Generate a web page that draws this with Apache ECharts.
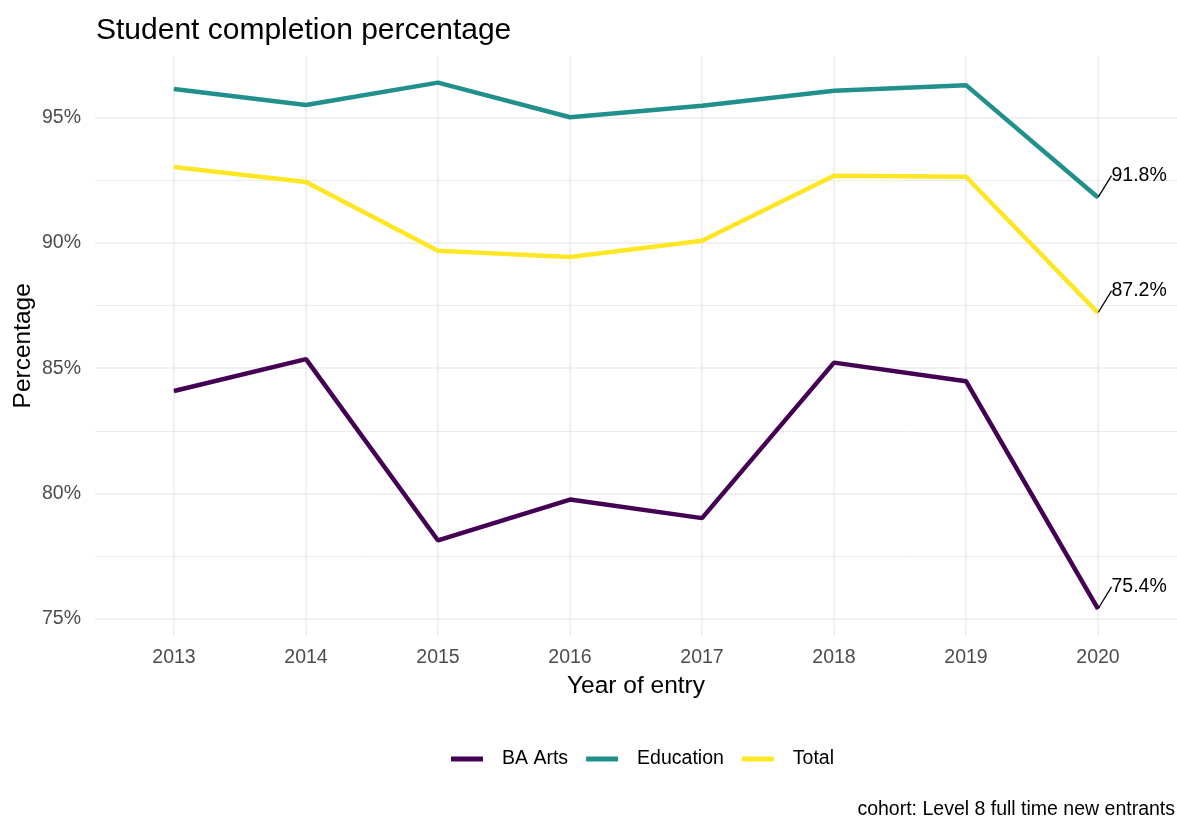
<!DOCTYPE html>
<html>
<head>
<meta charset="utf-8">
<title>Student completion percentage</title>
<script src="https://cdn.jsdelivr.net/npm/echarts@6/dist/echarts.min.js"></script>
<style>
  html, body { margin: 0; padding: 0; background: #fff; }
  #chart { width: 1177px; height: 820px; }
</style>
</head>
<body>
<div id="chart"></div>
<script>
// data
var years = ['2013', '2014', '2015', '2016', '2017', '2018', '2019', '2020'];
var baArts = [84.09, 85.36, 78.13, 79.76, 79.02, 85.22, 84.48, 75.4];
var education = [96.13, 95.49, 96.38, 95.0, 95.46, 96.06, 96.28, 91.8];
var total = [93.02, 92.42, 89.68, 89.43, 90.08, 92.67, 92.63, 87.2];

var seriesNames = ['BA Arts', 'Education', 'Total'];
var seriesColors = ['#440154', '#21908C', '#FDE725'];

var font = '"Liberation Sans", Arial, sans-serif';
var gridColor = '#ebebeb';

var myChart = echarts.init(document.getElementById('chart'));

// only the last point of each line gets a value label
function withEndLabel(values) {
    return values.map(function (v, i) {
        if (i === values.length - 1) {
            return { value: v, label: { show: true }, labelLine: { show: true } };
        }
        return v;
    });
}

function makeSeries(name, values, color) {
    return {
        name: name,
        type: 'line',
        xAxisIndex: 1,
        yAxisIndex: 1,
        data: withEndLabel(values),
        showSymbol: true,
        symbol: 'circle',
        symbolSize: 1,
        clip: false,
        silent: true,
        animation: false,
        itemStyle: { color: color },
        lineStyle: { color: color, width: 4.5 },
        label: {
            show: false,
            position: 'right',
            distance: 5,
            color: '#000',
            fontFamily: font,
            fontSize: 19.5,
            formatter: function (p) { return p.value.toFixed(1) + '%'; }
        },
        labelLayout: { dx: 8, dy: -22 },
        labelLine: {
            show: false,
            lineStyle: { color: '#000', width: 1.3 }
        },
        emphasis: { disabled: true }
    };
}

var option = {
    backgroundColor: '#fff',
    animation: false,
    title: [
        {
            text: 'Student completion percentage',
            left: 91,
            top: 11,
            textStyle: { fontFamily: font, fontSize: 30, fontWeight: 'normal', color: '#000' }
        },
        {
            text: 'cohort: Level 8 full time new entrants',
            right: -3,
            top: 795,
            textStyle: { fontFamily: font, fontSize: 19.5, fontWeight: 'normal', color: '#000' }
        }
    ],
    legend: {
        data: seriesNames,
        left: 446,
        top: 744,
        icon: 'rect',
        itemWidth: 32,
        itemHeight: 5,
        itemGap: 18,
        textStyle: {
            fontFamily: font,
            fontSize: 19.5,
            color: '#000',
            padding: [0, 0, 0, 14]
        }
    },
    grid: [
        // background panel: horizontal grid lines and y labels
        { left: 95, right: 0, top: 117.3, bottom: 201 },
        // data panel
        { left: 174, right: 79, top: 56.3, bottom: 184.7 }
    ],
    xAxis: [
        { gridIndex: 0, type: 'value', min: 0, max: 1, show: false },
        {
            gridIndex: 1,
            type: 'category',
            data: years,
            boundaryGap: false,
            name: 'Year of entry',
            nameLocation: 'middle',
            nameGap: 38,
            nameTextStyle: { fontFamily: font, fontSize: 24.5, color: '#000' },
            axisLine: { show: false },
            axisTick: { show: false },
            axisLabel: { fontFamily: font, fontSize: 19.5, color: '#4d4d4d', margin: 12 },
            splitLine: { show: true, lineStyle: { color: gridColor, width: 1.5 } }
        }
    ],
    yAxis: [
        {
            gridIndex: 0,
            type: 'value',
            min: 75,
            max: 95,
            interval: 5,
            axisLine: { show: false },
            axisTick: { show: false },
            axisLabel: {
                fontFamily: font, fontSize: 19.5, color: '#4d4d4d', margin: 14,
                formatter: '{value}%'
            },
            splitLine: { show: true, lineStyle: { color: gridColor, width: 1.5 } },
            minorTick: { show: false, splitNumber: 2 },
            minorSplitLine: { show: true, lineStyle: { color: gridColor, width: 1 } }
        },
        {
            gridIndex: 1,
            type: 'value',
            min: 74.35,
            max: 97.43,
            name: 'Percentage',
            nameLocation: 'middle',
            nameRotate: 90,
            nameGap: 138,
            nameTextStyle: { fontFamily: font, fontSize: 24.5, color: '#000' },
            axisLine: { show: false },
            axisTick: { show: false },
            axisLabel: { show: false },
            splitLine: { show: false }
        }
    ],
    series: [
        makeSeries(seriesNames[0], baArts, seriesColors[0]),
        makeSeries(seriesNames[1], education, seriesColors[1]),
        makeSeries(seriesNames[2], total, seriesColors[2])
    ]
};

myChart.setOption(option);
</script>
</body>
</html>
